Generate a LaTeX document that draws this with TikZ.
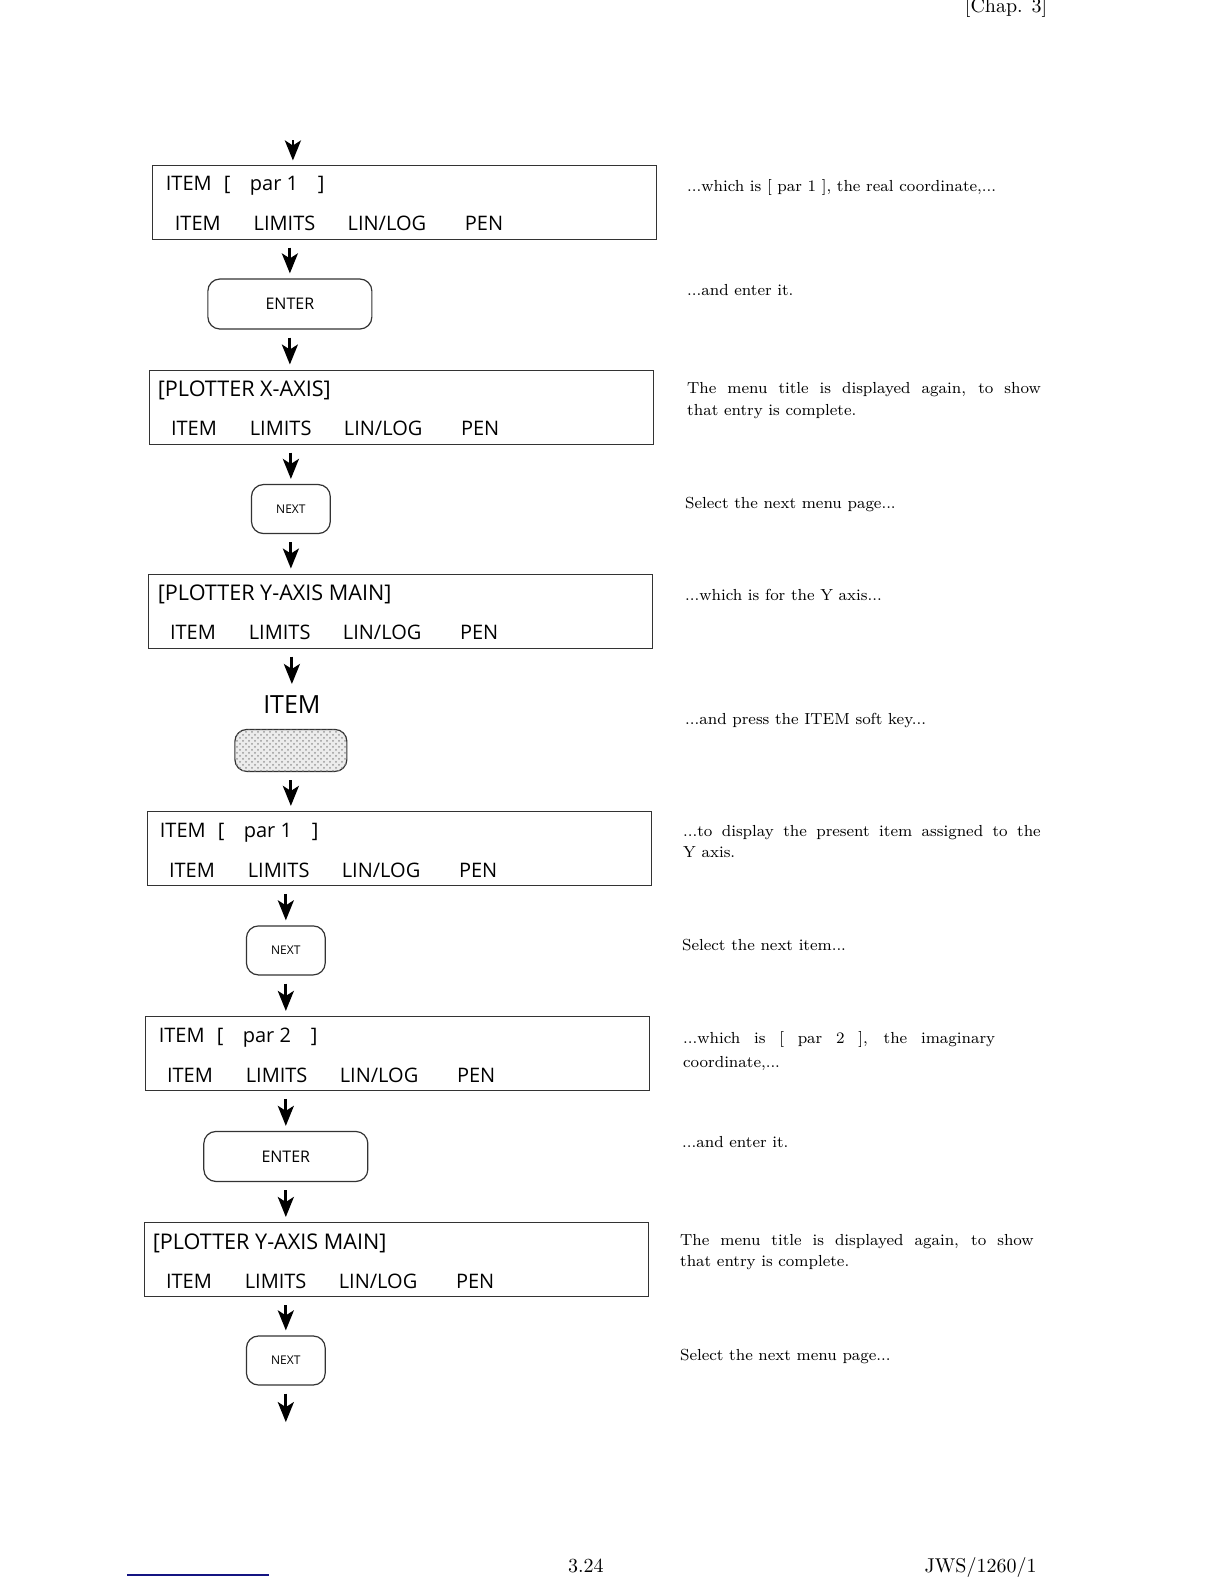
\documentclass[tikz,border=0pt]{standalone}
\usepackage{fontspec}
\newfontfamily\keyfont{Open Sans}
\usepackage{tikz}
\usetikzlibrary{positioning,arrows.meta,patterns}
\definecolor{footblue}{RGB}{20,20,130}
\newcommand{\softkeys}{\makebox[39.4pt][l]{ITEM}\makebox[47pt][l]{LIMITS}\makebox[58.6pt][l]{LIN/LOG}PEN}
\newcommand{\itempar}[1]{\makebox[29pt][l]{ITEM}\makebox[13pt][l]{[}\makebox[34pt][l]{par #1}]}
\tikzset{
	menu/.style={draw=black!80,line width=0.5pt,minimum width=252pt,minimum height=37pt,inner sep=0pt},
	softkey/.style={draw=black!80,line width=0.6pt,rounded corners=6pt,inner sep=0pt},
	line/.style={anchor=base west,inner sep=0pt,font=\keyfont\fontsize{10}{12}\selectfont},
	title/.style={line,font=\keyfont\fontsize{10.8}{12}\selectfont},
	keytext/.style={font=\keyfont\fontsize{#1}{9}\selectfont},
	note/.style={anchor=base west,inner sep=0pt,font=\fontsize{8}{10}\selectfont},
	flow/.style={-{Stealth[length=10pt,width=8pt,inset=2.5pt]},line width=1.4pt,shorten <=4pt,shorten >=2.5pt}
}

\begin{document}
\begin{tikzpicture}[x=0.505pt,y=-0.505pt]
		\useasboundingbox (0,0) rectangle (1212,1568.3);
		% menu screens
		\node[menu] (b1) at (400,200) {};
		\node[line] (b1t) at ([shift={(7pt,-13.2pt)}]b1.north west) {\itempar{1}};
		\node[line] (b1k) at ([shift={(11.5pt,-33.2pt)}]b1.north west) {\softkeys};
		\node[menu] (b2) at (398,403) {};
		\node[title] (b2t) at ([shift={(4pt,-13.6pt)}]b2.north west) {[PLOTTER X-AXIS]};
		\node[line] (b2k) at ([shift={(10.6pt,-33.2pt)}]b2.north west) {\softkeys};
		\node[menu] (b3) at (397,605) {};
		\node[title] (b3t) at ([shift={(4.5pt,-13.6pt)}]b3.north west) {[PLOTTER Y-AXIS MAIN]};
		\node[line] (b3k) at ([shift={(10.6pt,-33.2pt)}]b3.north west) {\softkeys};
		\node[menu] (b4) at (396,840) {};
		\node[line] (b4t) at ([shift={(6pt,-13.4pt)}]b4.north west) {\itempar{1}};
		\node[line] (b4k) at ([shift={(10.6pt,-33.2pt)}]b4.north west) {\softkeys};
		\node[menu] (b5) at (394,1043) {};
		\node[line] (b5t) at ([shift={(6.5pt,-13.4pt)}]b5.north west) {\itempar{2}};
		\node[line] (b5k) at ([shift={(10.6pt,-33.2pt)}]b5.north west) {\softkeys};
		\node[menu] (b6) at (393,1247) {};
		\node[title] (b6t) at ([shift={(4pt,-13.6pt)}]b6.north west) {[PLOTTER Y-AXIS MAIN]};
		\node[line] (b6k) at ([shift={(10.6pt,-33.2pt)}]b6.north west) {\softkeys};
		% keys
		\node[softkey,keytext=8,minimum width=82pt,minimum height=25pt] (k1) at (287,301) {ENTER};
		\node[softkey,keytext=6,minimum width=39.4pt,minimum height=24.5pt] (k2) at (288,504) {NEXT};
		\node[font=\keyfont\fontsize{12.5}{14}\selectfont] (l3) at (289,698) {ITEM};
		\node[softkey,minimum width=56pt,minimum height=21pt,fill=gray!15,postaction={pattern=crosshatch dots,pattern color=gray!80}] (k3) at (288,743) {};
		\node[softkey,keytext=6,minimum width=39.4pt,minimum height=24.5pt] (k4) at (283,941) {NEXT};
		\node[softkey,keytext=8,minimum width=82pt,minimum height=25pt] (k5) at (283,1145) {ENTER};
		\node[softkey,keytext=6,minimum width=39.4pt,minimum height=24.5pt] (k6) at (283,1347) {NEXT};
		\coordinate (in) at (290,131);
		\coordinate (out) at (283,1408);
		\path[flow]
		(in) edge[shorten >=2pt] (b1.north -| in)
		(b1.south -| k1) edge (k1)
		(k1) edge (b2.north -| k1)
		(b2.south -| k2) edge (k2)
		(k2) edge (b3.north -| k2)
		(b3.south -| l3) edge (l3)
		(k3) edge (b4.north -| k3)
		(b4.south -| k4) edge (k4)
		(k4) edge (b5.north -| k4)
		(b5.south -| k5) edge (k5)
		(k5) edge (b6.north -| k5)
		(b6.south -| k6) edge (k6)
		(k6) edge[shorten >=0pt] (out);
		% notes
		\node[note] (n1) at (680,190) {...which is [ par 1 ], the real coordinate,...};
		\node[note] (n2) at (680,293) {...and enter it.};
		\node[note] (n3) at (680,390) {\makebox[176.8pt][s]{The menu title is displayed again, to show}};
		\node[note] (n3b) at (680,411) {that entry is complete.};
		\node[note] (n4) at (678,503) {Select the next menu page...};
		\node[note] (n5) at (678,595) {...which is for the Y axis...};
		\node[note] (n6) at (678,717) {...and press the ITEM soft key...};
		\node[note] (n7) at (676,828) {\makebox[178.8pt][s]{...to display the present item assigned to the}};
		\node[note] (n7b) at (676,849) {Y axis.};
		\node[note] (n8) at (675,941) {Select the next item...};
		\node[note] (n9) at (676,1033) {\makebox[156pt][s]{...which is [ par 2 ], the imaginary}};
		\node[note] (n9b) at (676,1057) {coordinate,...};
		\node[note] (n10) at (675,1136) {...and enter it.};
		\node[note] (n11) at (673,1233) {\makebox[176.8pt][s]{The menu title is displayed again, to show}};
		\node[note] (n11b) at (673,1254) {that entry is complete.};
		\node[note] (n12) at (673,1347) {Select the next menu page...};
		% page furniture
		\node[anchor=base west,inner sep=0pt,font=\fontsize{10}{12}\selectfont] (chap) at (955,12) {[Chap. 3]};
		\node[anchor=base west,inner sep=0pt,font=\fontsize{10}{12}\selectfont] (page) at (562,1557) {3.24};
		\node[anchor=base west,inner sep=0pt,font=\fontsize{10}{12}\selectfont] (ref) at (915,1557) {JWS/1260/1};
		\draw[footblue,line width=1pt] (126,1559) -- (266,1559);
	\end{tikzpicture}
\end{document}
